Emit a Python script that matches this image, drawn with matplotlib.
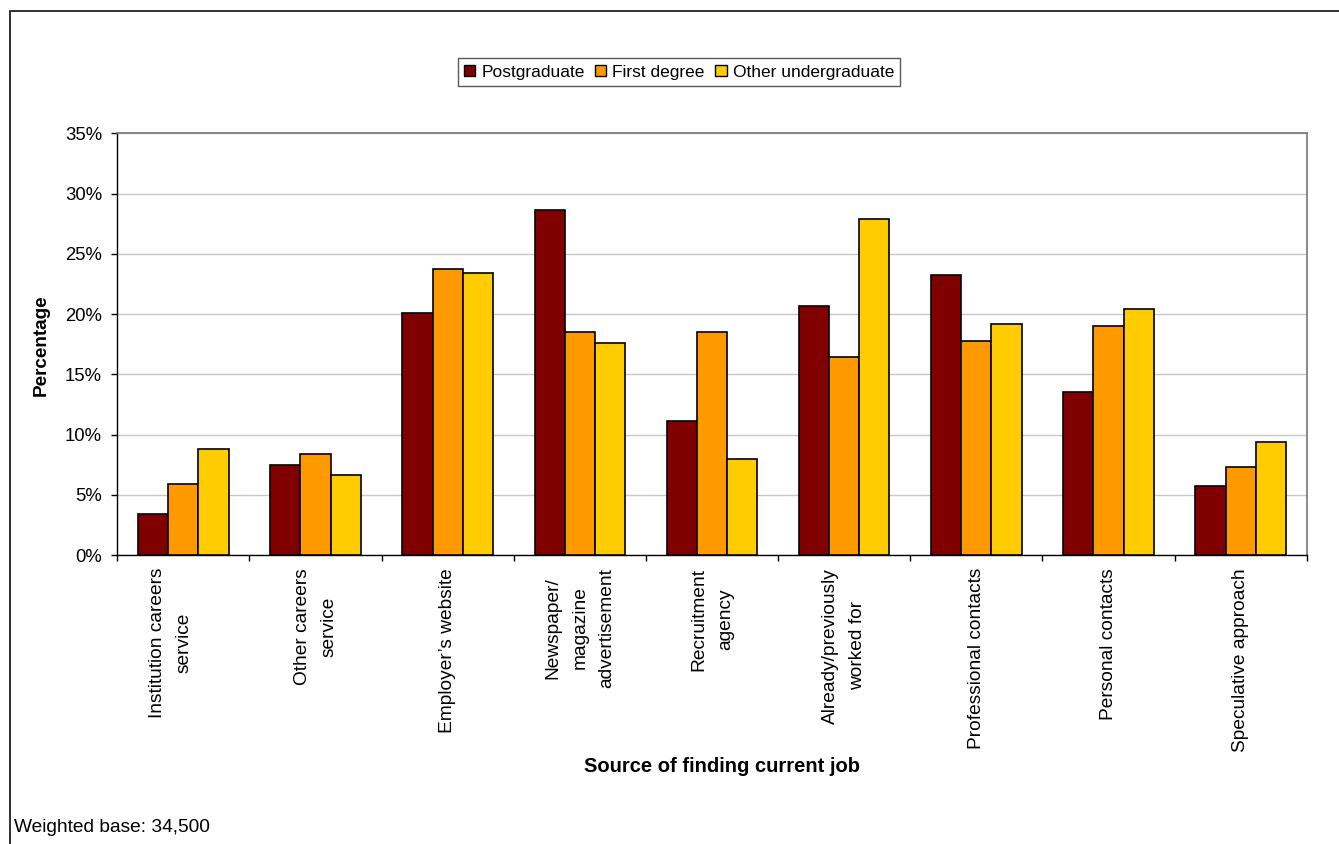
import matplotlib
matplotlib.use("Agg")
import matplotlib.pyplot as plt
from matplotlib.patches import Rectangle, Patch
from matplotlib.transforms import ScaledTranslation
import numpy as np

plt.rcParams['font.family'] = ['Liberation Sans', 'DejaVu Sans']

categories = [
    "Institution careers\nservice",
    "Other careers\nservice",
    "Employer\u2019s website",
    "Newspaper/\nmagazine\nadvertisement",
    "Recruitment\nagency",
    "Already/previously\nworked for",
    "Professional contacts",
    "Personal contacts",
    "Speculative approach",
]
series_names = ["Postgraduate", "First degree", "Other undergraduate"]
postgraduate = [3.4, 7.5, 20.1, 28.6, 11.1, 20.7, 23.2, 13.5, 5.7]
first_degree = [5.9, 8.4, 23.7, 18.5, 18.5, 16.4, 17.8, 19.0, 7.3]
other_undergraduate = [8.8, 6.6, 23.4, 17.6, 8.0, 27.9, 19.2, 20.4, 9.4]
colors = ["#800000", "#FF9900", "#FFCC00"]
y_ticks = [0, 5, 10, 15, 20, 25, 30, 35]
y_tick_labels = ["0%", "5%", "10%", "15%", "20%", "25%", "30%", "35%"]

W, H = 1339, 844
fig = plt.figure(figsize=(W / 100, H / 100), dpi=100)

# outer chart-area border (runs off the right and bottom edges)
fig.patches.append(Rectangle((10 / W, 1 - 850 / H), 1340 / W, 839 / H,
                             transform=fig.transFigure, fill=False,
                             edgecolor="#202020", linewidth=1.3))

left, right, bottom, top = 117.3, 1306.7, 555, 133.3
ax = fig.add_axes([left / W, 1 - bottom / H, (right - left) / W, (bottom - top) / H])

x = np.arange(len(categories))
bw = 0.228
all_series = [postgraduate, first_degree, other_undergraduate]
for i, (vals, col) in enumerate(zip(all_series, colors)):
    ax.bar(x + (i - 1) * bw, vals, width=bw, color=col, edgecolor="black",
           linewidth=1.2, zorder=3)

ax.set_xlim(-0.5, len(categories) - 0.5)
ax.set_ylim(0, 35)
ax.set_yticks(y_ticks)
ax.set_yticklabels(y_tick_labels, fontsize=13.3)
ax.yaxis.grid(True, color="#c8c8c8", linewidth=1.0, zorder=0)
ax.set_axisbelow(True)
ax.tick_params(axis="y", direction="out", length=4, width=1, pad=7, colors="black")

# category boundaries carry the x tick marks
ax.set_xticks(np.arange(len(categories) + 1) - 0.5)
ax.set_xticklabels([])
ax.tick_params(axis="x", direction="out", length=4, width=1)

for s in ["top", "right"]:
    ax.spines[s].set_color("#808080")
    ax.spines[s].set_linewidth(1.3)
for s in ["left", "bottom"]:
    ax.spines[s].set_color("black")
    ax.spines[s].set_linewidth(1.0)

# rotated category labels beneath the axis
for i, lab in enumerate(categories):
    dx = -13 / 100 if i == 0 else 0
    tr = ax.get_xaxis_transform() + ScaledTranslation(dx, -13 / 100, fig.dpi_scale_trans)
    ax.text(i, 0, lab, transform=tr, rotation=90, ha="center", va="top",
            multialignment="center", fontsize=13.8, linespacing=1.75)

fig.text(41.7 / W, 1 - 345 / H, "Percentage", rotation=90, ha="center", va="center",
         fontsize=13.6, fontweight="bold")
fig.text(722.5 / W, 1 - 767 / H, "Source of finding current job", ha="center",
         va="center", fontsize=14.5, fontweight="bold")
fig.text(14 / W, 1 - 828 / H, "Weighted base: 34,500", ha="left", va="center",
         fontsize=13.8)

handles = [Patch(facecolor=c, edgecolor="black", linewidth=1.0) for c in colors]
leg = fig.legend(handles, series_names, loc="center",
                 bbox_to_anchor=(679 / W, 1 - 72 / H), ncol=3, fontsize=12.5,
                 frameon=True, fancybox=False, handlelength=0.65, handleheight=0.65,
                 handletextpad=0.35, columnspacing=0.6, borderpad=0.35,
                 borderaxespad=0)
leg.get_frame().set_edgecolor("#303030")
leg.get_frame().set_linewidth(1.0)

fig.savefig("out.png", dpi=100)
